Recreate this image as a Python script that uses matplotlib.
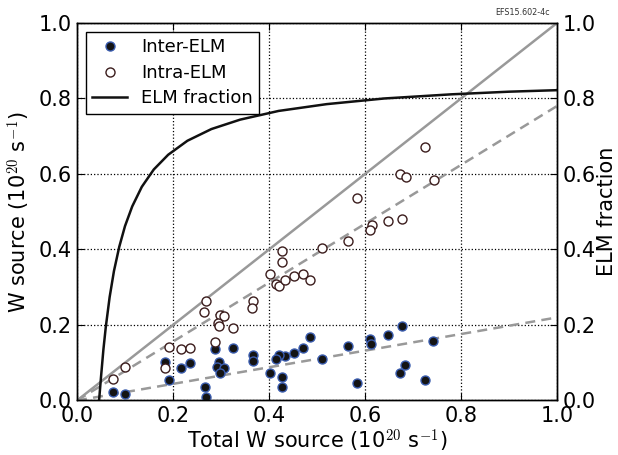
import matplotlib
matplotlib.use("Agg")
import matplotlib.pyplot as plt
from matplotlib.lines import Line2D

plt.rcParams['font.family'] = ['DejaVu Sans']
plt.rcParams['mathtext.fontset'] = 'cm'

# ------------------------------
# Data
# ------------------------------
inter_total = [0.485, 0.471, 0.453, 0.433, 0.421, 0.414, 0.565, 0.511, 0.403, 0.428,
               0.428, 0.583, 0.366, 0.367, 0.326, 0.287, 0.295, 0.292, 0.307, 0.298,
               0.267, 0.268, 0.235, 0.216, 0.192, 0.183, 0.074, 0.101, 0.610, 0.612,
               0.647, 0.678, 0.742, 0.684, 0.673, 0.724]
inter_w = [0.167, 0.138, 0.125, 0.118, 0.121, 0.110, 0.144, 0.110, 0.074, 0.063,
           0.035, 0.047, 0.121, 0.105, 0.138, 0.136, 0.103, 0.090, 0.085, 0.074,
           0.035, 0.008, 0.098, 0.085, 0.054, 0.103, 0.023, 0.016, 0.162, 0.149,
           0.174, 0.197, 0.158, 0.094, 0.074, 0.054]

intra_total = [0.268, 0.265, 0.298, 0.306, 0.294, 0.296, 0.326, 0.367, 0.365, 0.287,
               0.192, 0.216, 0.235, 0.183, 0.428, 0.428, 0.403, 0.415, 0.421, 0.433,
               0.453, 0.471, 0.485, 0.511, 0.565, 0.724, 0.673, 0.685, 0.744, 0.583,
               0.614, 0.610, 0.647, 0.677, 0.101, 0.074]
intra_w = [0.264, 0.234, 0.226, 0.224, 0.206, 0.196, 0.191, 0.264, 0.245, 0.154,
           0.143, 0.136, 0.140, 0.087, 0.396, 0.367, 0.334, 0.308, 0.302, 0.318,
           0.330, 0.335, 0.320, 0.403, 0.423, 0.672, 0.601, 0.591, 0.585, 0.537,
           0.465, 0.452, 0.476, 0.482, 0.088, 0.056]

# ELM fraction curve (right axis)
frac_total = [0.046, 0.050, 0.055, 0.060, 0.068, 0.077, 0.088, 0.100, 0.115, 0.135,
              0.160, 0.190, 0.230, 0.280, 0.340, 0.420, 0.520, 0.640, 0.780, 0.900, 1.000]
frac_elm = [0.000, 0.062, 0.135, 0.195, 0.274, 0.343, 0.407, 0.462, 0.514, 0.566,
            0.612, 0.651, 0.688, 0.719, 0.744, 0.767, 0.785, 0.800, 0.811, 0.818, 0.822]

# reference lines through the origin
line_x = [0.0, 1.0]
unity_slope = 1.0
dashed_slopes = [0.78, 0.22]

ticks = [0.0, 0.2, 0.4, 0.6, 0.8, 1.0]
tick_labels = ["0.0", "0.2", "0.4", "0.6", "0.8", "1.0"]

# ------------------------------
# Plot
# ------------------------------
fig = plt.figure(figsize=(6.18, 4.55), dpi=100)
ax = fig.add_axes([0.1246, 0.1198, 0.7767, 0.8297])

ax.plot(line_x, [unity_slope * v for v in line_x], color="#999999", lw=1.8, zorder=2)
for s in dashed_slopes:
    ax.plot(line_x, [s * v for v in line_x], color="#999999", lw=1.8,
            ls=(0, (4, 2.5)), zorder=2)

ax.scatter(inter_total, inter_w, s=42, facecolor="#141414", edgecolor="#3a5cae",
           linewidths=1.0, zorder=3)
ax.scatter(intra_total, intra_w, s=42, facecolor="white", edgecolor="#3b1c1c",
           linewidths=1.0, zorder=4)

ax.set_xlim(0, 1)
ax.set_ylim(0, 1)
ax.set_xticks(ticks)
ax.set_xticklabels(tick_labels)
ax.set_yticks(ticks)
ax.set_yticklabels(tick_labels)
ax.grid(True, color="black", ls=":", lw=0.9)
ax.tick_params(direction="in", labelsize=15, top=True, length=5, pad=4)
ax.set_xlabel(r"Total W source (10$^{20}$ s$^{-1}$)", fontsize=15, labelpad=1)
ax.set_ylabel(r"W source (10$^{20}$ s$^{-1}$)", fontsize=15, labelpad=4)

ax2 = ax.twinx()
ax2.plot(frac_total, frac_elm, color="#111111", lw=1.8)
ax2.set_ylim(0, 1)
ax2.set_yticks(ticks)
ax2.set_yticklabels(tick_labels)
ax2.tick_params(direction="in", labelsize=15, length=5, pad=4)
ax2.set_ylabel("ELM fraction", fontsize=15, labelpad=1)

for a in (ax, ax2):
    for sp in a.spines.values():
        sp.set_linewidth(1.0)

handles = [
    Line2D([], [], ls="none", marker="o", ms=6.5, mfc="#141414", mec="#3a5cae"),
    Line2D([], [], ls="none", marker="o", ms=6.5, mfc="white", mec="#3b1c1c"),
    Line2D([], [], color="#111111", lw=1.8),
]
leg = ax2.legend(handles, ["Inter-ELM", "Intra-ELM", "ELM fraction"], loc="upper left",
                 fontsize=13, fancybox=False, framealpha=1, edgecolor="black",
                 borderaxespad=0.5, handlelength=1.9, labelspacing=0.42,
                 borderpad=0.35, handletextpad=0.8)
leg.get_frame().set_linewidth(1.0)

fig.text(0.89, 0.963, "EFS15.602-4c", fontsize=5.8, ha="right", va="bottom",
         color="#333333")

fig.savefig("out.png", dpi=100)
